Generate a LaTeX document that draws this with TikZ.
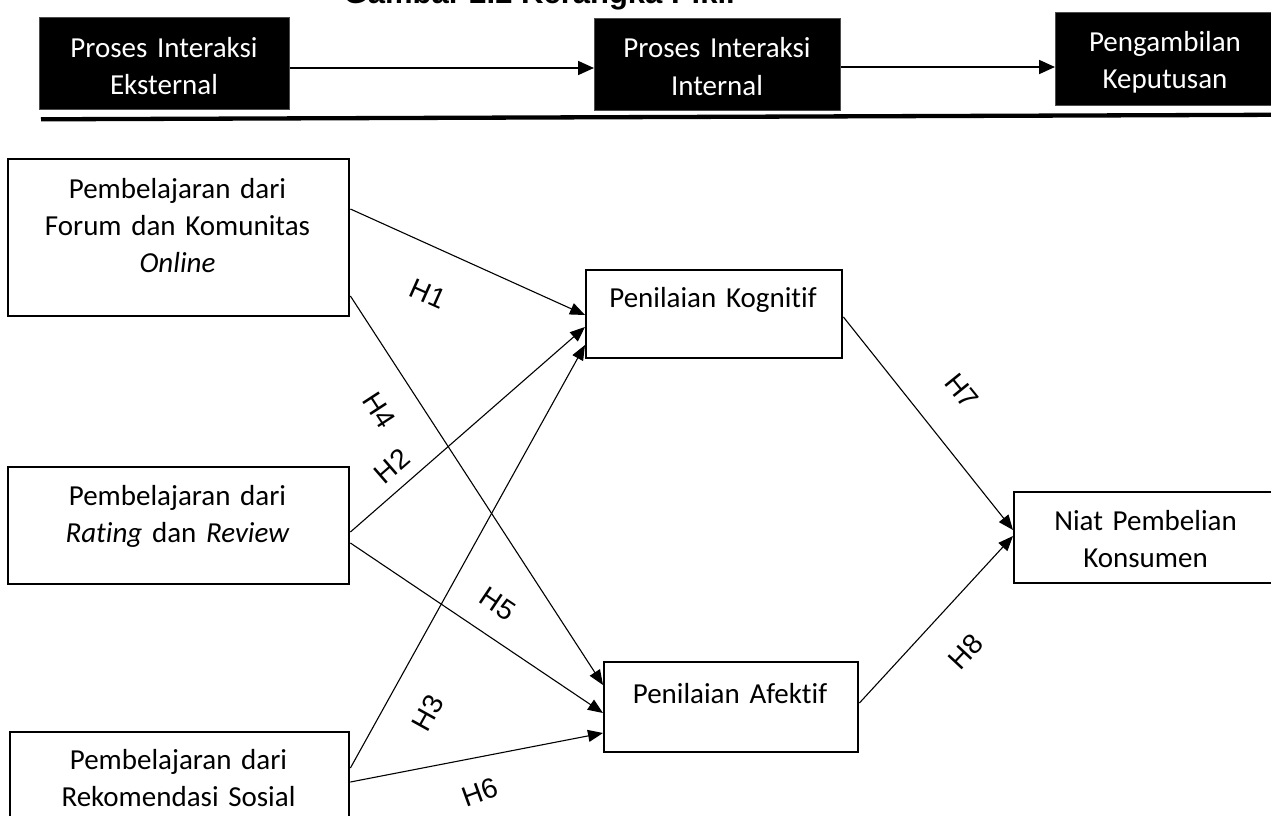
\documentclass[tikz,border=0pt]{standalone}
\usepackage{fontspec}
\setmainfont{Carlito}[Ligatures={NoCommon,NoContextual}]
\newfontfamily\arialfont{Liberation Sans}
\usetikzlibrary{arrows.meta}
\begin{document}
\begin{tikzpicture}[x=1pt,y=-1pt,
  bbox/.style={fill=black, draw=black!70, line width=0.8pt, inner sep=0pt, anchor=north west},
  wbox/.style={draw=black, line width=2.4pt, inner sep=0pt, anchor=north west},
  wtxt/.style={text=white, align=center, anchor=base, inner sep=0pt, text width=240pt,
               font=\fontsize{29}{37}\selectfont},
  btxt/.style={text=black, align=center, anchor=base, inner sep=0pt, text width=330pt,
               font=\fontsize{29}{37}\selectfont},
  hl/.style={font=\arialfont\fontsize{28}{30}\selectfont, inner sep=1pt},
  conn/.style={line width=1.1pt, -{Triangle[length=15pt,width=12pt]}},
  toparr/.style={line width=1.8pt, -{Triangle[length=16pt,width=14pt]}}
]
\useasboundingbox (0,0) rectangle (1271,816);

% title (cut off at the top)
\node[font=\arialfont\bfseries\fontsize{31}{37}\selectfont, anchor=base, inner sep=0pt] (title) at (541,4) {Gambar 2.2 Kerangka Pikir};

% top row
\node[bbox, minimum width=250, minimum height=92] (ext) at (39,17) {};
\node[wtxt] (extT) at (164,57) {Proses Interaksi\\Eksternal};
\node[bbox, minimum width=246, minimum height=92] (int) at (594,18) {};
\node[wtxt] (intT) at (717,58) {Proses Interaksi\\Internal};
\node[bbox, minimum width=222, minimum height=93] (kep) at (1055,12) {};
\node[wtxt] (kepT) at (1165,52) {Pengambilan\\Keputusan};

\draw[toparr] (ext.east |- 0,68) -- (int.west |- 0,68);
\draw[toparr] (int.east |- 0,67) -- (kep.west |- 0,67);

% thick rule
\coordinate (ruleL) at (41,119.3);
\coordinate (ruleR) at (1271,114.8);
\draw[line width=4.3pt] (ruleL) -- (ruleR);

% left boxes
\node[wbox, minimum width=341, minimum height=157] (forum) at (7,158) {};
\node[btxt] (forumT) at (177.5,198) {Pembelajaran dari\\Forum dan Komunitas\\\textit{Online}};
\node[wbox, minimum width=341, minimum height=117] (rating) at (7,466) {};
\node[btxt] (ratingT) at (177.5,505) {Pembelajaran dari\\\textit{Rat\kern0pt ing} dan \textit{Review}};
\node[wbox, minimum width=339, minimum height=110] (rekom) at (9,731) {};
\node[btxt] (rekomT) at (178.5,769) {Pembelajaran dari\\Rekomendasi Sosial};

% middle boxes
\node[wbox, minimum width=256, minimum height=88] (kog) at (585,269) {};
\node[btxt] (kogT) at (713,307) {Penilaian Kognit\kern0pt if};
\node[wbox, minimum width=254, minimum height=90] (afe) at (603,661) {};
\node[btxt] (afeT) at (730,703) {Penilaian Afekt\kern0pt if};

% right box
\node[wbox, minimum width=265, minimum height=91] (niat) at (1013,491) {};
\node[btxt] (niatT) at (1145.5,530) {Niat Pembelian\\Konsumen};

% connectors
\draw[conn] (forum.east |- 0,209) -- (kog.west |- 0,315);
\draw[conn] (forum.east |- 0,296) -- (afe.west |- 0,685);
\draw[conn] (rating.east |- 0,532) -- (kog.west |- 0,327);
\draw[conn] (rating.east |- 0,543) -- (afe.west |- 0,713);
\draw[conn] (rekom.east |- 0,768) -- (kog.west |- 0,345);
\draw[conn] (rekom.east |- 0,782) -- (afe.west |- 0,733);
\draw[conn] (kog.east |- 0,317) -- (niat.west |- 0,530);
\draw[conn] (afe.east |- 0,703) -- (niat.west |- 0,536);

% hypothesis labels
\node[hl, rotate=-24] (h1) at (428,294) {H1};
\node[hl, rotate=-57] (h4) at (379,410) {H4};
\node[hl, rotate=41] (h2) at (392,466) {H2};
\node[hl, rotate=-34] (h5) at (498,604) {H5};
\node[hl, rotate=61] (h3) at (428,713) {H3};
\node[hl, rotate=20] (h6) at (480,792) {H6};
\node[hl, rotate=-51] (h7) at (962,391) {H7};
\node[hl, rotate=47] (h8) at (966,652) {H8};
\end{tikzpicture}
\end{document}
